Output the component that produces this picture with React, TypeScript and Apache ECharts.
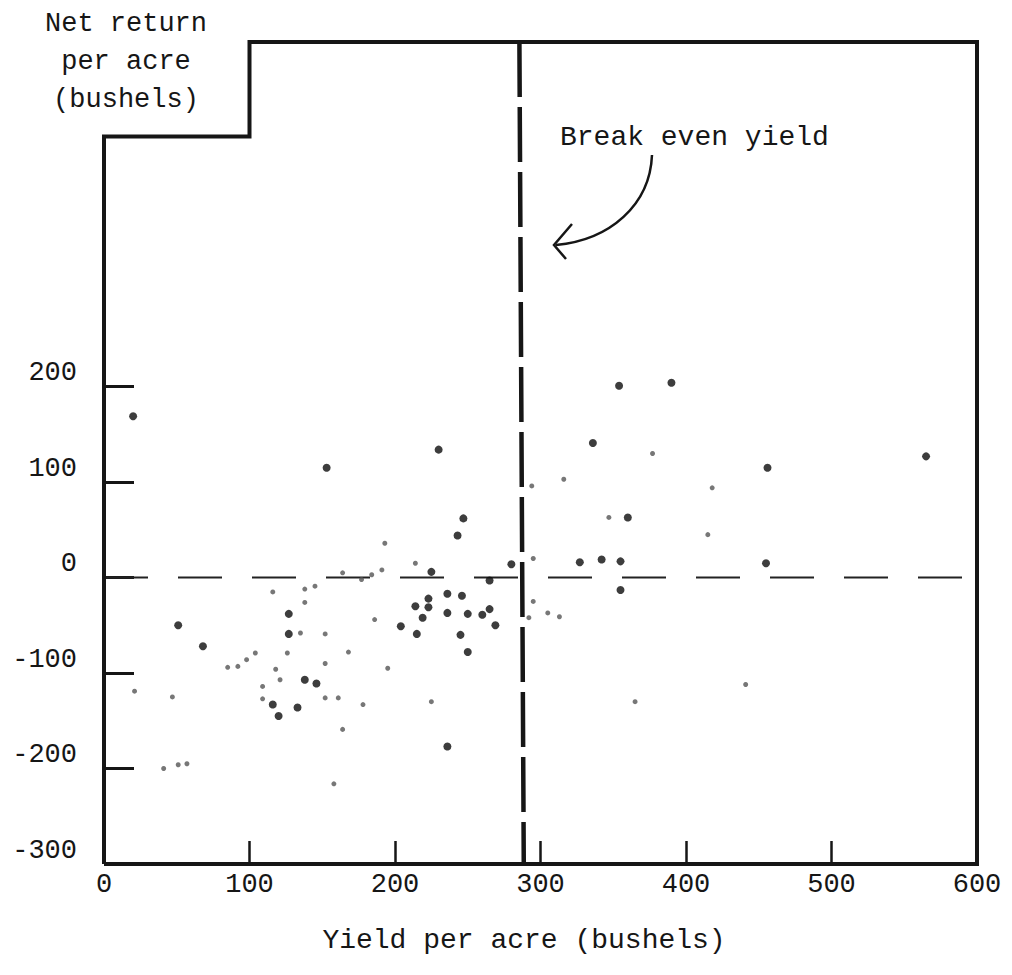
import React, { useEffect, useRef } from "react";
import * as echarts from "echarts";

// Axis settings
const xMin = 0;
const xMax = 600;
const yMin = -300;
const yMax = 561;
const yTickValues = [-300, -200, -100, 0, 100, 200];

// Break-even yield (bushels per acre)
const breakEvenYield = [285.5, 288.5];

// Dark (heavy) observations: [yield, net return]
const darkPoints: number[][] = [
  [20, 169], [153, 115], [354, 201], [390, 204], [336, 141], [456, 115],
  [360, 63], [327, 16], [342, 19], [355, 17], [455, 15], [355, -13],
  [565, 127], [230, 134], [247, 62], [243, 44], [280, 14], [225, 6],
  [265, -3], [236, -17], [246, -19], [223, -22], [214, -30], [223, -31],
  [219, -42], [236, -37], [250, -38], [260, -39], [265, -33], [269, -50],
  [204, -51], [215, -59], [245, -60], [250, -78], [236, -177], [127, -38],
  [51, -50], [127, -59], [68, -72], [138, -107], [146, -111], [116, -133],
  [133, -136], [120, -145],
];

// Light (faint) observations: [yield, net return]
const lightPoints: number[][] = [
  [377, 130], [316, 103], [418, 94], [347, 63], [415, 45], [294, 96],
  [193, 36], [295, 20], [214, 15], [191, 8], [184, 3], [177, -2],
  [164, 5], [116, -15], [138, -12], [145, -9], [186, -44], [168, -78],
  [195, -95], [161, -126], [178, -133], [225, -130], [164, -159], [158, -216],
  [295, -25], [292, -42], [305, -37], [313, -41], [365, -130], [441, -112],
  [138, -26], [135, -58], [152, -59], [104, -79], [126, -79], [98, -86],
  [92, -93], [85, -94], [152, -90], [118, -96], [121, -107], [109, -114],
  [21, -119], [47, -125], [109, -127], [152, -126], [51, -196], [57, -195],
  [41, -200],
];

// Frame outline (with the notch at top-left), in data units
const frameX = [0, 0, 100, 100, 600, 600, 0];
const frameY = [-300, 462, 462, 561, 561, -300, -300];

const FONT = '"Liberation Mono", "Courier New", monospace';
const INK = "#161616";

export default function App() {
  const ref = useRef<HTMLDivElement>(null);

  useEffect(() => {
    document.body.style.margin = "0";
    const chart = echarts.init(ref.current!, null, { renderer: "svg" });
    chart.setOption({
      animation: false,
      backgroundColor: "#ffffff",
      grid: { left: 104, top: 42, width: 873, height: 822, containLabel: false },
      xAxis: {
        type: "value",
        min: xMin,
        max: xMax,
        interval: 100,
        axisLine: { show: false, onZero: false },
        splitLine: { show: false },
        axisTick: { show: true, inside: true, length: 23, lineStyle: { color: INK, width: 2.5 } },
        axisLabel: { fontFamily: FONT, fontSize: 27, color: INK, margin: 7, showMinLabel: true, showMaxLabel: true },
      },
      yAxis: {
        type: "value",
        min: yMin,
        max: yMax,
        interval: 100,
        axisLine: { show: false, onZero: false },
        splitLine: { show: false },
        axisTick: {
          show: true,
          inside: true,
          length: 30,
          customValues: yTickValues,
          lineStyle: { color: INK, width: 3 },
        },
        axisLabel: {
          customValues: yTickValues,
          fontFamily: FONT,
          fontSize: 27,
          color: INK,
          margin: 27,
          verticalAlign: "bottom",
          formatter: (v: number) => (v > 200 ? "" : String(v)),
        },
      },
      series: [
        {
          type: "line",
          data: frameX.map((x, i) => [x, frameY[i]]),
          symbol: "none",
          clip: false,
          silent: true,
          lineStyle: { color: INK, width: 4, join: "miter" },
          z: 5,
        },
        {
          type: "line",
          data: [[xMin, 0], [xMax, 0]],
          symbol: "none",
          clip: false,
          silent: true,
          lineStyle: { color: "#222", width: 2, type: [44, 30] },
          z: 3,
        },
        {
          type: "line",
          data: [[breakEvenYield[0], yMax], [breakEvenYield[1], yMin]],
          symbol: "none",
          clip: false,
          silent: true,
          lineStyle: { color: INK, width: 4.5, type: [55, 10] },
          z: 4,
        },
        {
          type: "scatter",
          data: darkPoints,
          symbolSize: 8,
          itemStyle: { color: "#0d0d0d" },
          z: 6,
        },
        {
          type: "scatter",
          data: lightPoints,
          symbolSize: 5,
          itemStyle: { color: "#555" },
          z: 6,
        },
      ],
      graphic: [
        {
          type: "text",
          x: 126,
          y: 62,
          style: {
            text: "Net return\nper acre\n(bushels)",
            fontFamily: FONT,
            fontSize: 27,
            lineHeight: 38,
            fill: INK,
            align: "center",
            verticalAlign: "middle",
          },
        },
        {
          type: "text",
          x: 560,
          y: 137,
          style: {
            text: "Break even yield",
            fontFamily: FONT,
            fontSize: 28,
            fill: INK,
            align: "left",
            verticalAlign: "middle",
          },
        },
        {
          type: "bezierCurve",
          shape: { x1: 652, y1: 155, cpx1: 650, cpy1: 205, cpx2: 610, cpy2: 240, x2: 556, y2: 245 },
          style: { stroke: INK, lineWidth: 2.5, fill: null },
        },
        {
          type: "polyline",
          shape: { points: [[572, 224], [554, 245], [566, 259]] },
          style: { stroke: INK, lineWidth: 2.5, fill: null },
        },
        {
          type: "text",
          x: 524,
          y: 940,
          style: {
            text: "Yield per acre (bushels)",
            fontFamily: FONT,
            fontSize: 28,
            fill: INK,
            align: "center",
            verticalAlign: "middle",
          },
        },
      ],
    });
    return () => chart.dispose();
  }, []);

  return <div ref={ref} style={{ width: 1012, height: 975, background: "#fff" }} />;
}
